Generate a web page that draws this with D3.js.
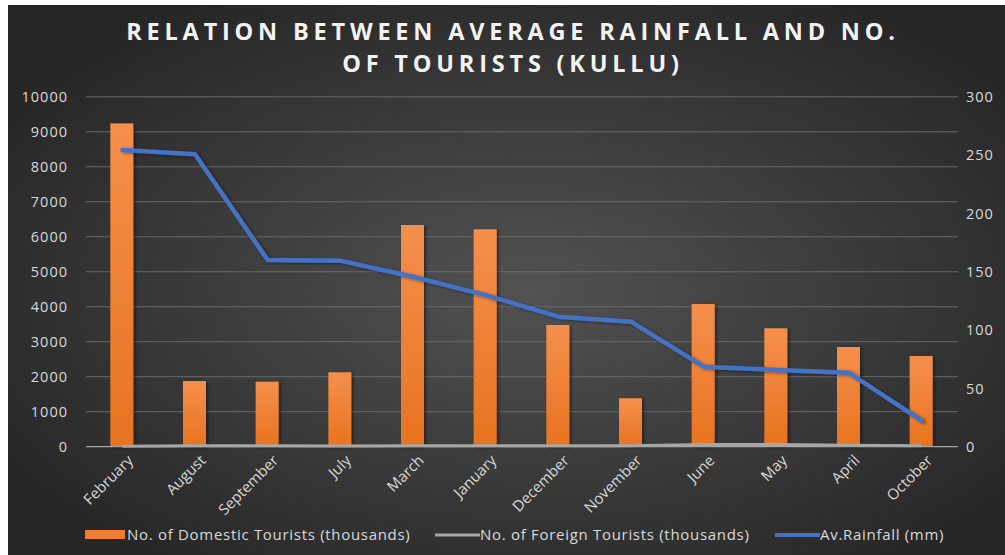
<!DOCTYPE html>
<html><head><meta charset="utf-8">
<script src="https://cdn.jsdelivr.net/npm/d3@7"></script>
<style>html,body{margin:0;padding:0;background:#fff;}svg{display:block;}</style>
</head><body>
<script>
const months = ["February","August","September","July","March","January","December","November","June","May","April","October"];
const domestic = [9240,1877,1858,2126,6336,6213,3478,1383,4078,3384,2849,2592];
const foreign = [10,25,25,20,30,25,30,30,60,65,40,25];
const rainfall = [254.4,250.7,160.1,159.5,145.7,130,111.5,107.2,68.6,65.8,63.4,22.3];
const leftTicks = [0,1000,2000,3000,4000,5000,6000,7000,8000,9000,10000];
const rightTicks = [0,50,100,150,200,250,300];
const titleLines = ["RELATION BETWEEN AVERAGE RAINFALL AND NO.","OF TOURISTS (KULLU)"];
const legendLabels = ["No. of Domestic Tourists (thousands)","No. of Foreign Tourists (thousands)","Av.Rainfall (mm)"];

const W=1005,H=555;
const svg=d3.select("body").append("svg").attr("width",W).attr("height",H);
const defs=svg.append("defs");
const rg=defs.append("radialGradient").attr("id","bg").attr("cx","52%").attr("cy","52%").attr("r","62%");
rg.append("stop").attr("offset","0%").attr("stop-color","#525252");
rg.append("stop").attr("offset","100%").attr("stop-color","#262626");
const bg=defs.append("linearGradient").attr("id","bar").attr("x1",0).attr("x2",0).attr("y1",0).attr("y2",1);
bg.append("stop").attr("offset","0%").attr("stop-color","#f58f4c");
bg.append("stop").attr("offset","100%").attr("stop-color","#e8731f");
const sh=defs.append("filter").attr("id","sh").attr("x","-20%").attr("y","-5%").attr("width","160%").attr("height","110%");
sh.append("feDropShadow").attr("dx",2).attr("dy",1).attr("stdDeviation",1.5).attr("flood-color","#000").attr("flood-opacity",0.45);

svg.append("rect").attr("width",W).attr("height",H).attr("fill","#fff");
svg.append("rect").attr("x",8).attr("y",5).attr("width",W-8).attr("height",H-5).attr("fill","url(#bg)");

const x0=86,x1=958,yTop=96.8,yBot=446.7;
const x=d3.scaleBand().domain(months).range([x0,x1]);
const yL=d3.scaleLinear().domain([0,10000]).range([yBot,yTop]);
const yR=d3.scaleLinear().domain([0,300]).range([yBot,yTop]);
const FF="'Open Sans',sans-serif";

// title (two separate lines)
titleLines.forEach((l,i)=>svg.append("text").attr("text-anchor","middle").attr("fill","#f2f2f2")
  .attr("font-family",FF).attr("font-weight","bold").attr("font-size",23.5).attr("letter-spacing",4.8)
  .attr("x",513).attr("y",40+i*32).text(l));

// gridlines
svg.append("g").selectAll("line").data(leftTicks.slice(1)).join("line")
  .attr("x1",x0).attr("x2",x1).attr("y1",d=>yL(d)).attr("y2",d=>yL(d))
  .attr("stroke","#6a6a6a").attr("stroke-width",1);

// axes
const gl=svg.append("g").attr("transform",`translate(${x0},0)`)
  .call(d3.axisLeft(yL).tickValues(leftTicks).tickSize(0).tickPadding(18).tickFormat(d3.format("d")));
const gr=svg.append("g").attr("transform",`translate(${x1},0)`)
  .call(d3.axisRight(yR).tickValues(rightTicks).tickSize(0).tickPadding(8).tickFormat(d3.format("d")));
[gl,gr].forEach(g=>{g.select(".domain").remove();
  g.selectAll("text").attr("fill","#d9d9d9").attr("font-family",FF).attr("font-size",14.5).attr("letter-spacing",1);});

// bars
const bw=23;
svg.append("g").selectAll("rect").data(domestic).join("rect")
  .attr("x",(d,i)=>x(months[i])+x.bandwidth()/2-bw/2-0.5).attr("width",bw)
  .attr("y",d=>yL(d)).attr("height",d=>yBot-yL(d))
  .attr("fill","url(#bar)").attr("filter","url(#sh)");

// x axis line
svg.append("line").attr("x1",x0).attr("x2",x1).attr("y1",yBot).attr("y2",yBot).attr("stroke","#a6a6a6").attr("stroke-width",1.2);

const gx=svg.append("g").attr("transform",`translate(0,${yBot})`).call(d3.axisBottom(x).tickSize(0).tickPadding(0));
gx.select(".domain").remove();
gx.selectAll("text").attr("fill","#d9d9d9").attr("font-family",FF).attr("font-size",15)
  .attr("text-anchor","end").attr("transform","translate(8,11) rotate(-45)").attr("dy","0.35em");

// foreign line
const lineL=d3.line().x((d,i)=>x(months[i])+x.bandwidth()/2).y(d=>yL(d));
svg.append("path").datum(foreign).attr("d",lineL).attr("fill","none").attr("stroke","#a6a6a6").attr("stroke-width",3).attr("stroke-linejoin","round");

// rainfall line
const lineR=d3.line().x((d,i)=>x(months[i])+x.bandwidth()/2).y(d=>yR(d));
svg.append("path").datum(rainfall).attr("d",lineR).attr("fill","none").attr("stroke","#4472c4").attr("stroke-width",4.5)
  .attr("stroke-linejoin","round").attr("stroke-linecap","round").attr("filter","url(#sh)");

// legend
const lg=svg.append("g").attr("font-family",FF).attr("font-size",15).attr("letter-spacing",0.7).attr("fill","#d9d9d9");
const ly=535;
lg.append("rect").attr("x",85).attr("y",ly-5).attr("width",40).attr("height",9).attr("fill","#ed7d31");
lg.append("text").attr("x",127).attr("y",ly).attr("dy","0.35em").text(legendLabels[0]);
lg.append("line").attr("x1",435).attr("x2",480).attr("y1",ly).attr("y2",ly).attr("stroke","#a6a6a6").attr("stroke-width",3);
lg.append("text").attr("x",480).attr("y",ly).attr("dy","0.35em").text(legendLabels[1]);
lg.append("line").attr("x1",775).attr("x2",820).attr("y1",ly).attr("y2",ly).attr("stroke","#4472c4").attr("stroke-width",4);
lg.append("text").attr("x",820).attr("y",ly).attr("dy","0.35em").text(legendLabels[2]);
</script>
</body></html>
